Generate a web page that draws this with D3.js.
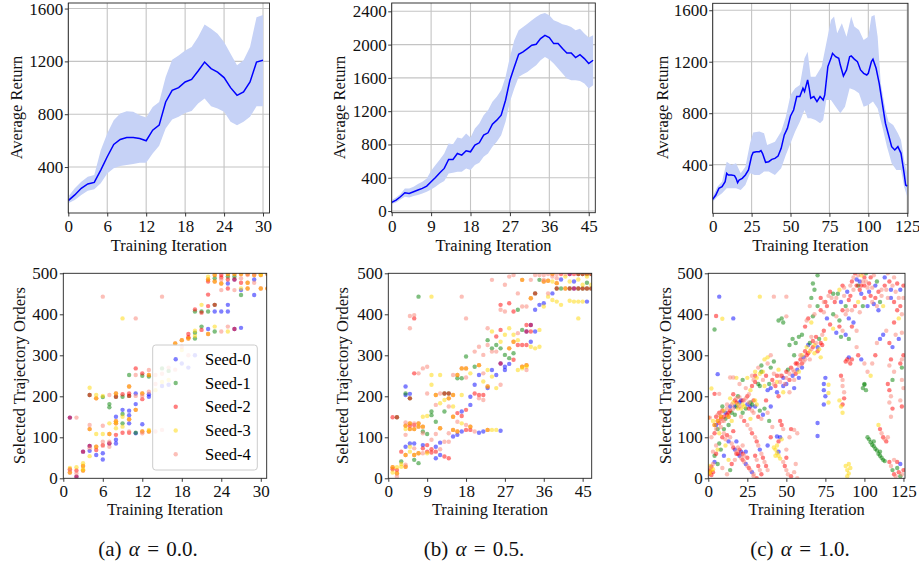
<!DOCTYPE html>
<html><head><meta charset="utf-8">
<script src="https://cdn.jsdelivr.net/npm/d3@7"></script>
<style>
body{margin:0;background:#fff;}
svg{display:block;}
svg text{font-family:"Liberation Serif",Tinos,"Times New Roman",Times,"DejaVu Serif",serif;}
</style></head><body>
<svg id="c" width="919" height="564"></svg>
<script>
// ---------------- DATA ----------------
const seedNames = ["Seed-0","Seed-1","Seed-2","Seed-3","Seed-4"];
const seedColors = ["#0000ff","#008000","#ff0000","#ffd700","#fa8072"];

// (a) alpha = 0.0 : average return
const aIter = [0,1,2,3,4,5,6,7,8,9,10,11,12,13,14,15,16,17,18,19,20,21,22,23,24,25,26,27,28,29,30];
const aMean = [146,189,239,272,284,377,478,571,609,624,624,616,599,679,717,893,981,1001,1044,1064,1127,1195,1145,1119,1077,1001,943,969,1044,1195,1208];
const aHigh = [176,239,289,327,340,528,654,755,805,823,818,792,775,855,893,1082,1213,1245,1283,1308,1384,1479,1447,1409,1346,1258,1170,1208,1308,1535,1552];
const aLow  = [126,151,189,221,231,277,352,390,408,415,423,433,433,503,561,692,760,780,810,825,881,918,860,843,818,742,717,742,780,860,860];

// (b) alpha = 0.5 : average return
const bIter = [0,1,2,3,4,5,6,7,8,9,10,11,12,13,14,15,16,17,18,19,20,21,22,23,24,25,26,27,28,29,30,31,32,33,34,35,36,37,38,39,40,41,42,43,44,45,46];
const bMean = [104,132,172,220,212,232,252,272,300,352,404,460,512,620,620,692,672,724,712,792,820,912,940,1044,1092,1152,1332,1572,1732,1884,1912,1952,1992,2004,2072,2112,2084,2012,2012,1952,1900,1900,1844,1880,1832,1772,1812];
const bHigh = [132,164,204,272,272,292,324,352,392,484,552,620,692,812,804,884,872,932,884,992,1052,1152,1212,1312,1372,1452,1612,1852,2052,2172,2212,2252,2292,2332,2364,2380,2352,2292,2272,2244,2232,2212,2172,2192,2132,2084,2112];
const bLow  = [84,104,140,172,164,180,192,212,232,260,292,332,360,452,460,472,472,512,492,552,580,652,692,772,832,912,1072,1312,1472,1612,1644,1672,1712,1752,1812,1852,1820,1772,1712,1652,1592,1572,1572,1564,1532,1472,1512];

// (c) alpha = 1.0 : average return
const cIter = [0,2,4,6,8,9,10,12,14,15,16,17,19,21,23,25,26,28,30,31,32,34,36,38,40,42,44,46,48,50,52,54,56,58,59,61,62,63,65,67,69,71,72,74,76,77,79,81,82,84,86,88,89,91,93,95,97,99,100,102,103,105,107,109,111,113,115,117,119,121,123,124,125];
const cMean = [130,164,216,229,268,333,320,320,315,294,260,281,294,320,359,467,495,501,501,509,488,418,423,441,449,467,527,631,682,778,825,929,929,994,968,1058,994,916,929,890,929,903,942,1162,1226,1265,1239,1226,1174,1089,1136,1239,1245,1220,1201,1136,1110,1097,1110,1201,1220,1149,1032,877,722,631,540,514,540,488,333,242,234];
const cHighIter = [0,3,6,9,12,15,18,21,24,26,30,33,35,40,44,47,50,53,56,59,61,63,66,70,73,76,78,80,83,86,89,91,94,97,100,102,104,106,108,111,113,116,119,121,123,125];
const cHigh = [151,229,268,423,397,410,333,384,566,649,657,644,553,579,657,773,941,993,1019,1226,1278,1084,1084,1162,1343,1525,1551,1421,1499,1395,1551,1473,1447,1369,1395,1551,1564,1395,1032,825,734,708,644,591,436,333];
const cLowIter = [0,3,6,9,12,15,18,21,24,27,30,33,36,40,44,47,50,53,56,59,61,63,66,69,71,73,76,79,82,85,88,91,94,97,100,103,106,109,112,115,118,121,123,125];
const cLow = [112,151,177,216,216,216,203,242,333,320,320,346,346,320,372,475,566,657,734,825,760,760,747,721,747,902,902,850,799,850,993,980,954,850,864,890,837,695,539,410,358,358,229,151];

// tick labels
const aTopXTicks = [0,6,12,18,24,30], aTopYTicks = [400,800,1200,1600];
const bTopXTicks = [0,9,18,27,36,45], bTopYTicks = [0,400,800,1200,1600,2000,2400];
const cTopXTicks = [0,25,50,75,100,125], cTopYTicks = [400,800,1200,1600];
const scatterYTicks = [0,100,200,300,400,500];

// selected trajectory orders: "iteration order seedcode" (b,g,r,y,s = seed 0..4; o=r+y, p=b+r, n=r+g overlaps)
const aSel = "1 148 p,1 25 y,1 22 r,1 14 o,1 20 s,2 148 s,2 27 y,2 19 r,2 12 s,2 4 p,3 65 p,3 37 y,3 30 o,3 22 y,3 19 o,4 221 y,4 203 n,4 130 s,4 120 o,4 79 p,4 73 s,4 67 b,4 54 y,5 203 y,5 195 o,5 108 y,5 77 o,5 69 r,5 57 b,6 443 s,6 201 y,6 198 g,6 128 s,6 108 y,6 89 s,6 81 r,6 79 s,6 61 b,6 46 b,7 203 s,7 181 g,7 173 g,7 134 y,7 108 o,7 89 s,7 85 p,7 77 s,8 207 o,8 199 n,8 150 b,8 139 o,8 134 o,8 122 y,8 106 r,8 94 b,8 85 b,9 390 y,9 205 r,9 199 g,9 167 b,9 157 g,9 150 y,9 134 g,9 126 y,9 111 r,10 252 g,10 224 o,10 207 r,10 201 n,10 165 b,10 154 b,10 144 o,10 134 b,10 111 r,10 114 s,11 390 s,11 268 r,11 252 s,11 207 b,11 201 s,11 181 b,11 167 o,11 111 g,11 110 b,12 256 r,12 250 g,12 207 o,12 201 s,12 193 r,12 132 b,12 114 o,12 110 s,13 264 s,13 252 o,13 248 g,13 211 s,13 205 b,13 199 b,13 118 y,13 114 o,14 252 s,14 230 s,14 215 y,14 114 s,15 443 s,15 268 g,15 255 s,15 235 y,15 225 b,15 118 s,16 270 s,16 262 g,16 240 y,16 228 b,17 329 o,17 265 s,18 337 o,18 321 s,18 313 y,18 280 b,19 344 r,19 341 o,19 352 r,19 300 s,19 270 b,20 412 r,20 407 g,20 360 y,20 355 g,20 347 y,20 341 g,20 300 b,21 423 y,21 407 g,21 404 r,21 370 g,21 362 r,22 492 y,22 485 o,22 480 r,22 448 r,22 420 r,22 407 g,22 364 b,22 352 o,23 496 o,23 488 g,23 480 o,23 423 n,23 407 b,23 370 y,23 358 g,24 496 r,24 490 r,24 485 s,24 475 o,24 459 s,24 407 b,24 358 s,25 498 o,25 492 g,25 485 r,25 475 b,25 463 r,25 423 b,25 407 b,25 370 s,25 358 y,26 498 o,26 492 g,26 485 p,26 459 s,26 364 p,27 498 o,27 488 s,27 477 r,27 463 y,27 459 b,27 447 g,27 367 b,28 498 o,28 496 s,28 477 o,28 463 o,29 498 s,29 496 o,29 485 b,29 477 s,29 447 b,30 498 y,30 496 o,30 463 o,31 498 o,31 463 o";

const bSel = "1 27 o,1 22 r,1 14 y,1 149 r,2 27 y,2 20 r,2 12 o,2 4 s,2 149 n,3 65 r,3 41 g,3 35 y,3 28 y,4 224 b,4 207 g,4 203 b,4 136 s,4 128 o,4 120 y,4 106 s,4 77 b,4 57 o,4 33 s,4 28 o,5 396 s,5 366 s,5 206 b,5 195 n,5 134 o,5 128 r,5 120 o,5 85 b,5 77 y,5 65 y,6 398 s,6 390 r,6 256 r,6 134 s,6 130 r,6 120 o,6 85 b,6 73 s,6 57 o,6 45 g,7 443 g,7 256 s,7 134 o,7 126 o,7 61 o,7 37 g,8 268 s,8 150 y,8 126 o,8 114 g,8 110 s,8 81 b,8 73 r,8 61 s,9 272 s,9 207 s,9 152 y,9 108 g,9 81 r,9 65 r,9 61 y,10 443 y,10 252 y,10 228 y,10 163 g,10 154 g,10 94 s,10 71 r,10 63 r,11 203 o,11 179 s,11 138 g,11 108 s,11 77 b,11 65 r,11 49 b,12 252 y,12 207 s,12 183 y,12 122 o,12 87 b,12 71 s,12 57 b,13 207 n,13 191 y,13 163 g,13 89 s,13 53 r,14 207 n,14 195 o,14 175 s,14 110 s,14 89 s,14 49 r,15 252 s,15 203 o,15 175 y,15 150 o,15 118 o,15 102 b,16 252 o,16 244 g,16 159 r,16 138 s,16 114 o,16 106 b,17 443 s,17 268 o,17 244 g,17 203 y,17 163 b,17 152 r,17 134 y,17 114 b,18 390 s,18 297 g,18 268 o,18 246 s,18 167 r,18 130 s,18 118 r,19 256 y,19 199 b,19 179 b,19 126 o,19 118 r,20 309 s,20 272 g,20 228 b,20 207 r,20 114 s,21 321 s,21 276 o,21 252 b,21 203 r,21 195 s,21 111 b,22 301 s,22 256 s,22 236 y,22 203 r,22 191 s,22 114 b,23 366 s,23 337 g,23 325 s,23 264 y,23 224 o,23 220 b,23 118 o,24 484 s,24 358 y,24 317 g,24 309 s,24 264 b,24 248 y,24 118 y,25 346 r,25 325 g,25 309 s,25 252 b,25 220 y,25 118 y,26 423 r,26 411 s,26 362 r,26 333 y,26 317 g,26 280 p,26 228 s,26 116 b,27 472 s,27 407 s,27 350 y,27 301 g,27 272 b,27 264 b,28 492 s,28 427 r,28 366 y,28 317 o,28 293 g,28 279 b,29 496 s,29 407 r,29 350 y,29 333 o,29 305 g,29 289 r,30 451 s,30 411 g,30 354 s,30 337 y,30 325 r,30 264 y,31 484 o,31 419 s,31 362 g,31 325 r,31 272 o,31 268 y,32 419 s,32 374 r,32 358 p,32 325 r,32 276 o,32 272 y,32 264 s,33 484 s,33 439 o,33 374 p,33 358 r,33 333 b,33 321 y,34 496 s,34 451 n,34 411 b,34 358 b,34 317 y,35 496 s,35 484 g,35 423 b,35 362 y,35 321 y,36 496 s,36 484 s,36 480 o,36 427 b,36 419 y,37 498 s,37 482 o,37 451 s,37 443 y,38 498 o,38 492 s,38 480 y,38 451 b,38 435 y,39 498 s,39 488 s,39 476 o,39 463 n,39 431 y,40 498 r,40 485 b,40 463 g,40 423 y,41 498 s,41 492 y,41 463 o,42 498 p,42 480 y,42 463 n,42 433 y,43 498 r,43 480 b,43 463 p,43 431 y,44 498 n,44 485 y,44 463 n,44 431 y,44 390 y,45 498 n,45 472 y,45 463 n,45 431 y,46 498 n,46 492 y,46 477 g,46 463 n,46 431 b,47 498 n,47 472 y,47 463 n";

const cSel = "0 10 r,0 15 y,0 20 r,1 12 y,1 18 r,1 25 s,1 30 y,2 8 r,2 20 y,2 28 r,3 15 r,3 22 y,3 35 s,0 148 o,1 148 s,4 40 b,4 55 g,5 60 r,3 65 s,6 70 y,5 80 s,7 85 g,2 100 s,4 110 r,6 120 g,8 125 s,5 130 b,7 135 r,3 140 y,9 140 s,10 150 r,11 145 g,12 155 r,8 160 s,10 165 y,13 160 r,12 170 s,14 175 b,9 175 g,15 180 s,16 185 y,17 190 r,18 195 s,19 200 g,20 198 s,16 205 r,14 195 y,18 175 g,20 185 b,22 190 r,24 195 s,21 170 y,23 175 y,25 180 b,22 160 g,26 170 r,27 185 g,28 165 s,30 175 b,29 190 r,31 180 y,32 150 r,33 165 g,34 145 s,35 155 b,36 170 g,38 160 s,40 175 b,37 190 r,39 140 g,10 110 s,12 105 r,14 100 s,16 115 r,18 90 b,19 75 s,20 70 r,21 65 b,22 60 r,23 55 s,24 65 b,25 50 r,22 80 s,18 60 r,17 45 s,15 35 r,14 20 g,12 10 s,13 45 y,10 55 b,11 80 y,8 70 g,6 35 g,9 25 s,27 120 s,28 110 r,30 100 s,31 90 r,32 80 s,33 70 b,34 60 s,35 50 r,36 40 s,37 30 r,38 20 s,30 55 r,31 45 s,32 30 r,33 20 s,34 10 r,29 5 s,31 0 r,42 75 y,43 70 y,44 62 y,45 55 y,46 48 y,43 55 y,44 80 y,45 65 b,46 100 b,47 95 y,45 90 r,44 102 b,48 40 s,49 30 r,50 20 s,51 10 s,53 5 r,55 15 s,56 35 s,57 0 s,50 70 s,52 100 s,47 130 r,48 120 s,46 140 r,41 125 s,40 100 r,38 80 b,53 120 r,55 118 s,57 110 s,50 50 r,26 205 s,27 215 y,28 225 r,29 240 s,30 250 r,31 245 y,32 230 g,33 255 y,34 260 g,35 240 s,36 225 y,37 250 r,38 215 b,39 230 g,40 220 b,41 240 r,42 255 s,43 225 r,44 210 b,45 200 r,46 235 s,47 250 r,48 245 b,49 230 s,50 260 r,51 265 g,52 255 s,53 270 r,54 250 b,55 240 s,56 280 r,57 265 b,58 275 s,59 290 r,60 300 y,61 285 s,62 310 r,63 320 y,64 305 r,65 330 g,66 315 s,67 335 r,68 325 y,69 345 r,70 320 b,71 340 g,72 330 r,73 350 s,74 360 r,75 340 y,70 310 r,68 305 y,72 295 y,65 290 s,60 270 b,58 245 b,55 220 b,52 210 s,50 230 b,48 210 y,45 265 y,40 270 g,38 295 y,35 260 y,33 225 g,30 235 r,28 250 s,25 245 y,24 220 s,22 240 g,20 230 s,18 245 y,45 385 g,47 390 g,48 380 g,50 395 s,52 325 g,54 340 g,56 330 g,58 345 g,55 300 g,60 350 g,62 370 r,63 385 s,64 390 r,66 380 y,67 395 g,68 400 s,70 420 g,72 410 r,74 405 s,76 390 b,78 375 r,80 365 y,82 355 b,84 370 r,85 345 g,86 360 s,88 350 b,90 340 g,92 370 r,93 380 b,95 360 s,66 440 g,68 460 g,67 475 g,70 495 g,65 420 s,72 440 r,74 430 s,75 430 r,77 445 s,78 455 r,80 450 g,82 440 s,84 460 y,85 430 b,86 470 r,87 445 s,88 420 g,89 410 s,90 435 r,91 470 s,92 480 r,93 490 s,94 500 r,95 485 b,96 470 g,97 460 r,98 495 y,99 480 s,100 470 r,101 500 g,102 465 s,103 455 b,104 445 r,105 430 s,106 425 b,107 440 r,108 420 s,109 410 b,110 430 g,111 445 s,112 420 y,113 490 b,114 460 s,115 500 s,116 480 r,117 440 b,118 470 s,119 430 r,120 455 s,121 410 r,122 440 s,123 420 r,124 400 s,125 470 r,96 430 y,98 450 b,100 440 r,102 420 b,104 490 r,106 495 s,108 480 g,99 420 g,97 405 s,95 320 s,96 300 r,98 290 b,100 280 s,102 260 s,104 250 y,100 230 g,99 220 g,105 280 s,107 300 r,108 330 s,110 340 b,112 350 b,114 360 s,116 330 r,118 320 b,120 350 s,122 340 b,124 355 s,119 380 r,122 390 y,88 285 r,89 290 r,90 295 b,91 280 r,92 290 r,90 285 s,86 240 s,86 225 s,87 210 s,87 195 r,86 180 r,85 250 r,84 190 y,85 175 y,86 160 y,74 230 b,74 215 b,75 200 b,74 180 b,75 245 b,70 135 b,70 103 b,77 228 y,77 208 y,77 185 y,100 228 g,101 215 g,115 230 r,116 215 r,117 200 s,116 185 s,118 170 r,117 150 s,118 240 g,119 260 s,123 280 r,124 290 s,124 270 g,125 300 r,124 240 s,125 220 s,123 190 s,124 175 r,116 275 s,117 290 r,102 100 g,103 95 g,104 88 g,105 82 g,106 78 g,107 72 g,108 68 g,109 60 g,110 55 g,111 50 g,112 45 g,113 42 g,110 65 g,106 90 g,110 120 r,111 110 s,112 100 r,113 95 s,114 90 r,115 100 s,109 130 y,88 30 y,89 20 y,90 12 y,91 25 y,89 5 y,90 35 y,116 40 r,117 30 s,118 20 g,119 10 r,120 5 s,121 25 g,122 15 r,123 35 b,124 10 s,125 20 r,119 45 s,121 40 r,123 5 g,7 443 b,33 443 y,42 443 s,50 443 s,5 396 r,4 363 g,16 390 b,9 389 y,6 254 b,2 219 y,4 206 r,7 206 s,14 246 s,16 246 s,30 260 y,32 270 s,34 275 g,36 290 y,38 280 s,40 300 s,42 285 g,44 250 r,10 120 g,13 130 g,15 140 y,17 155 g,19 170 y,21 150 s,23 140 r,25 130 s,27 145 y,5 150 r,6 155 s,7 160 r,8 150 o,9 165 r,10 140 s,11 160 b,12 180 s,13 150 o,14 165 r,15 160 g,16 170 s,17 175 b,18 185 r,19 180 y,20 175 s,21 190 b,22 180 y,23 190 s,24 170 g,25 200 r,26 185 s,27 175 b,28 180 g,29 160 s,30 190 y,6 140 o,8 145 r,4 130 o,5 120 s,7 110 y,9 100 r,11 95 s,13 90 b,15 85 s,16 75 r,17 70 b,18 65 s,19 60 r,20 55 b,21 50 s,22 45 r,23 40 s,24 35 b,25 30 s,26 25 r,27 20 s,28 15 b,29 10 s,55 260 s,57 280 r,59 300 s,61 295 b,63 300 r,65 310 y,67 320 r,69 330 s,71 315 y,73 325 r,66 345 s,64 325 b,62 290 s,60 280 r,58 260 y,56 255 r,54 265 s,52 240 r,50 245 s,48 225 b,46 250 s,44 235 y,42 230 s,76 420 r,79 440 s,81 430 r,83 450 g,87 465 s,89 455 b,91 445 r,93 460 s,95 470 r,96 495 s,97 480 b,98 470 r,99 500 s,100 490 r,101 480 s,103 475 r,105 465 s,107 470 b,109 455 r,111 460 s,113 470 r,115 440 s,117 460 b,119 490 s,121 475 r,123 460 b,125 440 s,80 400 g,82 395 s,84 385 g,86 410 r,88 400 s,90 390 b,92 410 s,94 420 r";

// ---------------- DRAW ----------------
const svg = d3.select("#c");
const SERIF = '"Liberation Serif", Tinos, "Times New Roman", Times, "DejaVu Serif", serif';
const FONT = 17;
const codeSeeds = {b:[0],g:[1],r:[2],y:[3],s:[4],o:[2,3],p:[0,2],n:[1,2]};
function parseSel(str){
  const out = [];
  str.split(",").forEach(t => {
    const [x,y,c] = t.trim().split(/\s+/);
    codeSeeds[c].forEach(s => out.push({x:+x, y:+y, s}));
  });
  return out.sort((a,b)=>a.s-b.s);
}

let clipId = 0;
function frame(g, x0,y0,x1,y1){
  g.append("rect").attr("x",x0).attr("y",y0).attr("width",x1-x0).attr("height",y1-y0)
   .attr("fill","none").attr("stroke","#222").attr("stroke-width",0.9);
}
function styleAxis(ax){
  ax.attr("font-family",SERIF);
  ax.select(".domain").remove();
  ax.selectAll(".tick line").attr("stroke","#222").attr("stroke-width",0.9);
  ax.selectAll(".tick text").attr("font-size",FONT).attr("fill","#111").style("font-family",SERIF);
}
function label(g){ return g.append("text").style("font-family",SERIF).attr("font-size",16.5).attr("fill","#111"); }

function topPanel(p){
  const g = svg.append("g");
  const x = d3.scaleLinear().domain(p.xd).range([p.x0,p.x1]);
  const y = d3.scaleLinear().domain(p.yd).range([p.y1,p.y0]);
  const id = "clip"+(clipId++);
  svg.append("clipPath").attr("id",id).append("rect")
    .attr("x",p.x0).attr("y",p.y0).attr("width",p.x1-p.x0).attr("height",p.y1-p.y0);
  g.selectAll(".gx").data(p.xt).join("line")
    .attr("x1",d=>x(d)).attr("x2",d=>x(d)).attr("y1",p.y0).attr("y2",p.y1)
    .attr("stroke","#c4c4c4").attr("stroke-width",1.1);
  g.selectAll(".gy").data(p.yt).join("line")
    .attr("y1",d=>y(d)).attr("y2",d=>y(d)).attr("x1",p.x0).attr("x2",p.x1)
    .attr("stroke","#c4c4c4").attr("stroke-width",1.1);
  const pg = g.append("g").attr("clip-path","url(#"+id+")");
  const poly = p.hiX.map((v,i)=>[x(v),y(p.hi[i])])
    .concat(p.loX.map((v,i)=>[x(v),y(p.lo[i])]).reverse());
  pg.append("path").attr("d", d3.line()(poly)+"Z").attr("fill","rgb(198,210,246)").attr("stroke","none");
  pg.append("path").attr("d", d3.line().x((d,i)=>x(p.mx[i])).y(d=>y(d))(p.mean))
    .attr("fill","none").attr("stroke","#0000ff").attr("stroke-width",1.5);
  frame(g,p.x0,p.y0,p.x1,p.y1);
  styleAxis(g.append("g").attr("transform",`translate(0,${p.y1})`)
    .call(d3.axisBottom(x).tickValues(p.xt).tickFormat(d3.format("d")).tickSize(3.5).tickPadding(3.5)));
  styleAxis(g.append("g").attr("transform",`translate(${p.x0},0)`)
    .call(d3.axisLeft(y).tickValues(p.yt).tickFormat(d3.format("d")).tickSize(3.5).tickPadding(1.5)));
  label(g).attr("x",(p.x0+p.x1)/2).attr("y",251).attr("text-anchor","middle").text("Training Iteration");
  label(g).attr("transform",`translate(${p.ylx},107.5) rotate(-90)`)
    .attr("text-anchor","middle").attr("dominant-baseline","central").text("Average Return");
}

function scatterPanel(p){
  const g = svg.append("g");
  const x = d3.scaleLinear().domain(p.xd).range([p.x0,p.x1]);
  const y = d3.scaleLinear().domain([0,500]).range([478.3,273.3]);
  const id = "clip"+(clipId++);
  svg.append("clipPath").attr("id",id).append("rect")
    .attr("x",p.x0).attr("y",273.3).attr("width",p.x1-p.x0).attr("height",205);
  g.append("g").attr("clip-path","url(#"+id+")").selectAll("circle").data(p.pts).join("circle")
    .attr("cx",d=>x(d.x)).attr("cy",d=>y(d.y)).attr("r",2.2)
    .attr("fill",d=>seedColors[d.s]).attr("fill-opacity",0.5);
  if(p.legend){
    const lg = g.append("g");
    lg.append("rect").attr("x",152.7).attr("y",345).attr("width",104.6).attr("height",125).attr("rx",3)
      .attr("fill","#fff").attr("fill-opacity",0.8).attr("stroke","#cccccc").attr("stroke-width",1);
    seedNames.forEach((n,i)=>{
      const cy = 359.3 + i*23.75;
      lg.append("circle").attr("cx",175.7).attr("cy",cy).attr("r",2.2)
        .attr("fill",seedColors[i]).attr("fill-opacity",0.5);
      lg.append("text").style("font-family",SERIF).attr("x",205).attr("y",cy+5.5).attr("font-size",16.5).text(n);
    });
  }
  frame(g,p.x0,273.3,p.x1,478.3);
  styleAxis(g.append("g").attr("transform",`translate(0,478.3)`)
    .call(d3.axisBottom(x).tickValues(p.xt).tickFormat(d3.format("d")).tickSize(3.5).tickPadding(3.5)));
  styleAxis(g.append("g").attr("transform",`translate(${p.x0},0)`)
    .call(d3.axisLeft(y).tickValues(scatterYTicks).tickFormat(d3.format("d")).tickSize(3.5).tickPadding(2)));
  label(g).attr("x",(p.x0+p.x1)/2).attr("y",515).attr("text-anchor","middle").text("Training Iteration");
  label(g).attr("transform",`translate(${p.ylx},375.5) rotate(-90)`)
    .attr("text-anchor","middle").attr("dominant-baseline","central").text("Selected Trajectory Orders");
}

topPanel({x0:68.3,x1:269.5,y0:3,y1:213,xd:[0,31],yd:[52,1642],xt:aTopXTicks,yt:aTopYTicks,
  mx:aIter,mean:aMean,hiX:aIter,hi:aHigh,loX:aIter,lo:aLow,ylx:16});
topPanel({x0:391.7,x1:595.3,y0:3,y1:212.7,xd:[0,46.5],yd:[-20,2500],xt:bTopXTicks,yt:bTopYTicks,
  mx:bIter,mean:bMean,hiX:bIter,hi:bHigh,loX:bIter,lo:bLow,ylx:339});
topPanel({x0:712.7,x1:908,y0:3.3,y1:213.3,xd:[0,125.5],yd:[22,1654],xt:cTopXTicks,yt:cTopYTicks,
  mx:cIter,mean:cMean,hiX:cHighIter,hi:cHigh,loX:cLowIter,lo:cLow,ylx:662});

scatterPanel({x0:63.3,x1:266.7,xd:[0,30.9],xt:aTopXTicks,pts:parseSel(aSel),ylx:19,legend:true});
scatterPanel({x0:388.3,x1:591.7,xd:[0,47.1],xt:bTopXTicks,pts:parseSel(bSel),ylx:342});
scatterPanel({x0:708.3,x1:905,xd:[0,126],xt:cTopXTicks,pts:parseSel(cSel),ylx:665});

// captions
const caps = [["(a) ","0.0."],["(b) ","0.5."],["(c) ","1.0."]];
const capX = [148,474,800];
caps.forEach((c,i)=>{
  const t = svg.append("text").style("font-family",SERIF).attr("x",capX[i]).attr("y",556)
    .attr("text-anchor","middle").attr("font-size",21).style("word-spacing","2px").attr("fill","#111");
  t.append("tspan").text(c[0]);
  t.append("tspan").attr("font-style","italic").text("α");
  t.append("tspan").text(" = "+c[1]);
});
</script>
</body></html>
